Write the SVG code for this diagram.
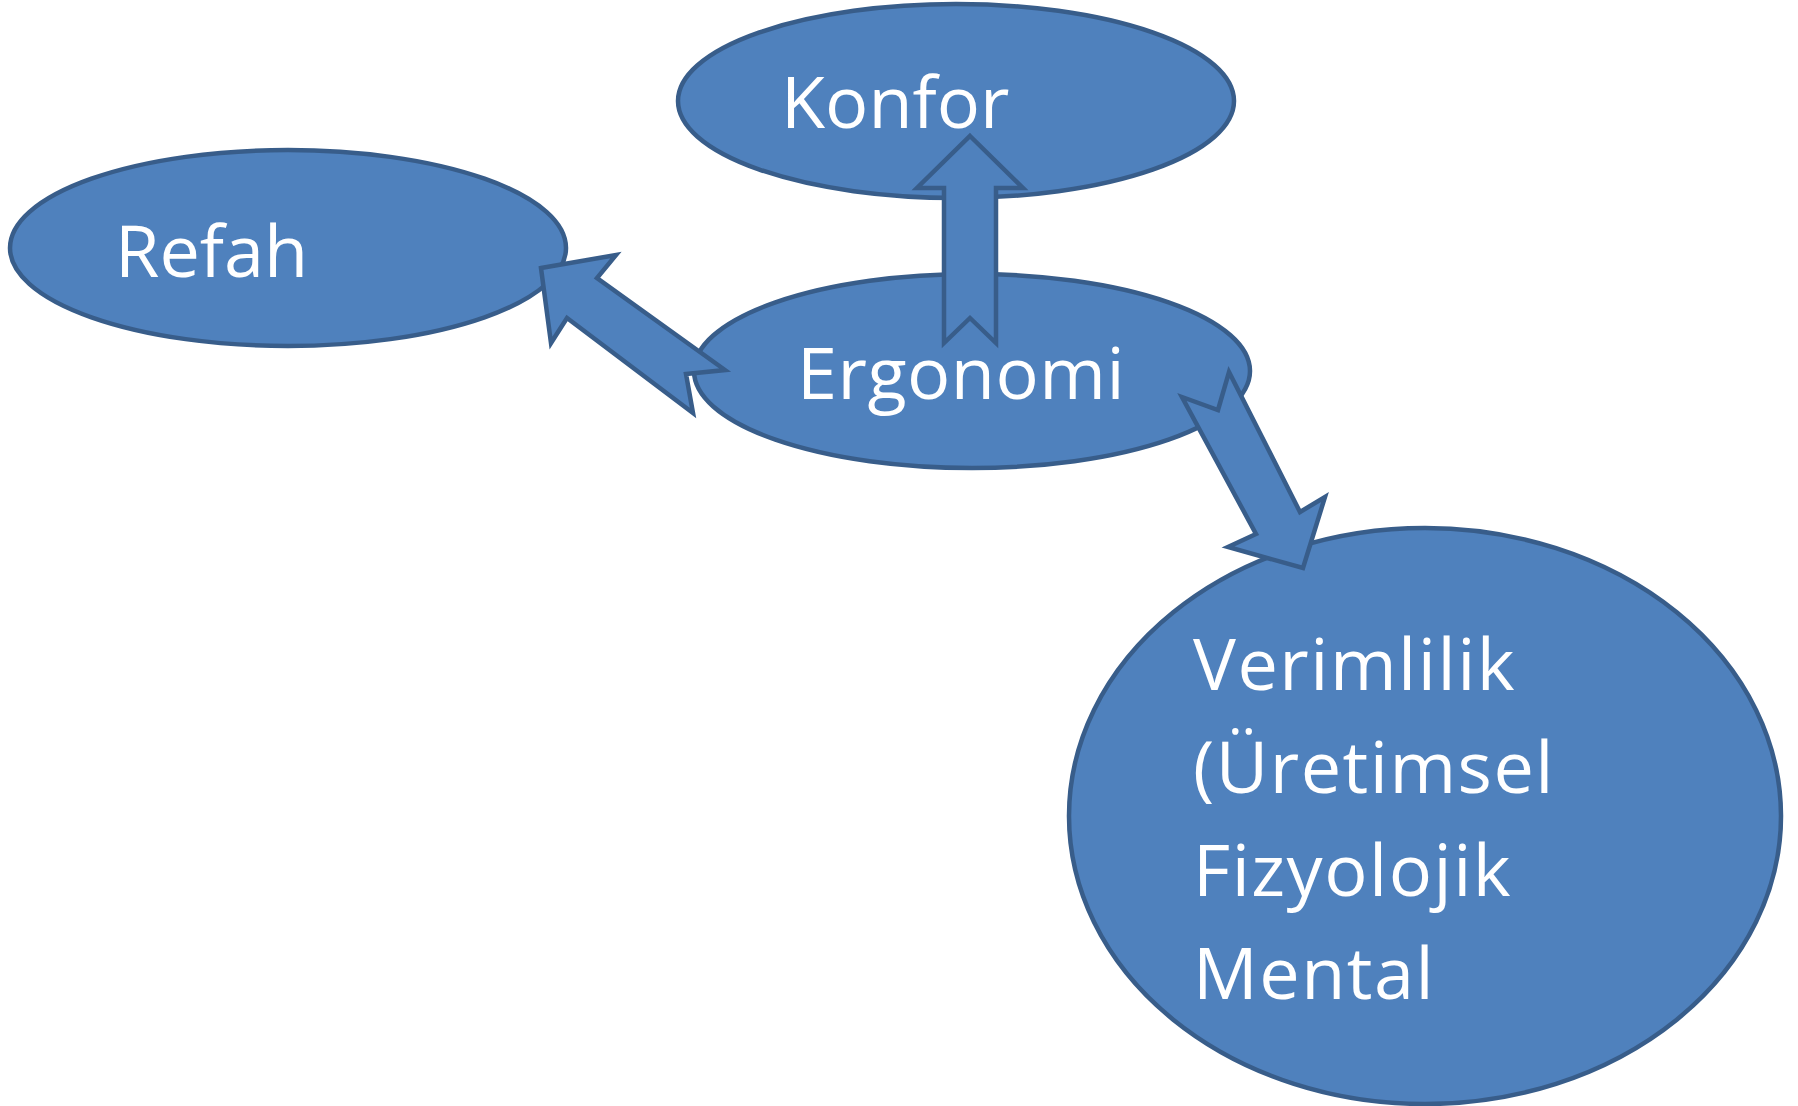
<svg xmlns="http://www.w3.org/2000/svg" width="1798" height="1106" viewBox="0 0 1798 1106">
<style>
.n{fill:#4F81BD;stroke:#385D8A;stroke-width:4.5}
.a{fill:#4F81BD;stroke:#385D8A;stroke-width:4.5;stroke-linejoin:miter}
.t{font-family:"Open Sans","Noto Sans",sans-serif;font-size:72px;fill:#FFFFFF}
.v{letter-spacing:1.5px}
</style>
<rect width="1798" height="1106" fill="#FFFFFF"/>
<g id="refah">
<ellipse class="n" cx="288" cy="248" rx="278" ry="98"/>
<text class="t" x="115" y="277">Refah</text>
</g>
<g id="konfor">
<ellipse class="n" cx="956" cy="101" rx="278" ry="97"/>
<text class="t" x="781" y="128">Konfor</text>
</g>
<g id="ergonomi">
<ellipse class="n" cx="972" cy="371" rx="278" ry="97"/>
<text class="t" x="797" y="399" style="letter-spacing:0.5px">Ergonomi</text>
</g>
<g id="verimlilik">
<ellipse class="n" cx="1425" cy="816" rx="356" ry="288"/>
<text class="t v" x="1193" y="690">Verimlilik</text>
<text class="t v" x="1193" y="793">(Üretimsel</text>
<text class="t v" x="1193" y="896">Fizyolojik</text>
<text class="t v" x="1193" y="999">Mental</text>
</g>
<g id="connectors">
<polygon class="a" points="970,136 1023,188 996,188 996,343 970,318 944,343 944,188 917,188"/>
<polygon class="a" points="541,268 616,255 597,278 725,370 686,374 693,413 567,318 551,343"/>
<polygon class="a" points="1229,372 1300,512 1325,497 1303,568 1228,547 1256,534 1182,397 1218,410"/>
</g>
</svg>
